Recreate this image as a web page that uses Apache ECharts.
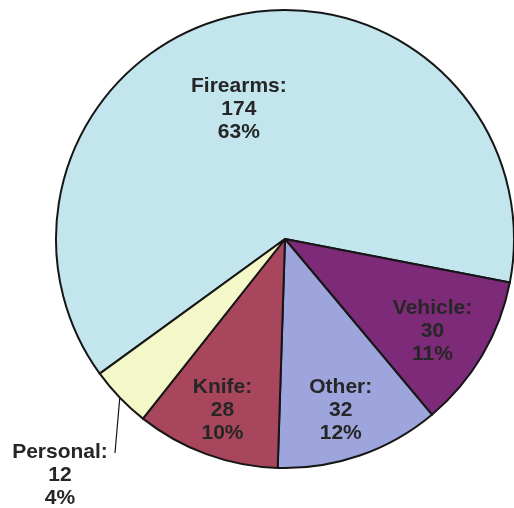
<!DOCTYPE html>
<html>
<head>
<meta charset="utf-8">
<script src="https://cdn.jsdelivr.net/npm/echarts@6/dist/echarts.min.js"></script>
<style>
  html, body { margin: 0; padding: 0; background: #fff; }
  #pieChart { width: 514px; height: 508px; }
</style>
</head>
<body>
<div id="pieChart"></div>
<script>
// data, clockwise from the top-left edge
const categories = ['Firearms', 'Vehicle', 'Other', 'Knife', 'Personal'];
const counts = [174, 30, 32, 28, 12];
const sliceColors = ['#c3e6ee', '#7d2a78', '#9ea5dd', '#a8465e', '#f4f7c8'];

// where each inside label sits: radius in px and small angle nudge (deg)
const labelRadius = [138, 174, 180, 182];
const labelTurn = [-7, 1.5, 1, 0];

const cx = 285, cy = 239, R = 229;

let pieDom = document.getElementById('pieChart');
let pieChart = echarts.init(pieDom);
var option;

const pieData = categories.map((name, i) => {
    let item = { name: name, value: counts[i], itemStyle: { color: sliceColors[i] } };
    if (name === 'Personal') {
        item.label = { position: 'outside' };
        item.labelLine = { show: true };
    }
    return item;
});

option = {
    animation: false,
    series: [
        {
            type: 'pie',
            center: [cx, cy],
            radius: R,
            startAngle: 216,
            clockwise: true,
            avoidLabelOverlap: false,
            data: pieData,
            itemStyle: {
                borderColor: '#161616',
                borderWidth: 2
            },
            label: {
                show: true,
                position: 'inside',
                color: '#262626',
                fontFamily: 'Liberation Sans, Arial, sans-serif',
                fontWeight: 'bold',
                fontSize: 21,
                lineHeight: 23,
                align: 'center',
                formatter: p => p.name + ':\n' + p.value + '\n' + Math.round(p.percent) + '%'
            },
            labelLine: {
                show: false,
                lineStyle: { color: '#161616', width: 1.2 }
            },
            emphasis: { disabled: true },
            labelLayout: function (params) {
                const i = params.dataIndex;
                const rect = params.labelRect;
                if (i < labelRadius.length) {
                    const lx = rect.x + rect.width / 2 - cx;
                    const ly = rect.y + rect.height / 2 - cy;
                    const a = Math.atan2(ly, lx) + labelTurn[i] * Math.PI / 180;
                    return {
                        dx: cx + labelRadius[i] * Math.cos(a) - (lx + cx),
                        dy: cy + labelRadius[i] * Math.sin(a) - (ly + cy)
                    };
                }
                // Personal: label below-left, line drops from the rim
                const pts = params.labelLinePoints;
                const start = pts ? pts[0] : [121, 395];
                const end = [115, 453];
                return {
                    x: 60,
                    y: 475,
                    align: 'center',
                    verticalAlign: 'middle',
                    labelLinePoints: [start, [(start[0] + end[0]) / 2, (start[1] + end[1]) / 2], end]
                };
            }
        }
    ]
};
pieChart.setOption(option);
</script>
</body>
</html>
